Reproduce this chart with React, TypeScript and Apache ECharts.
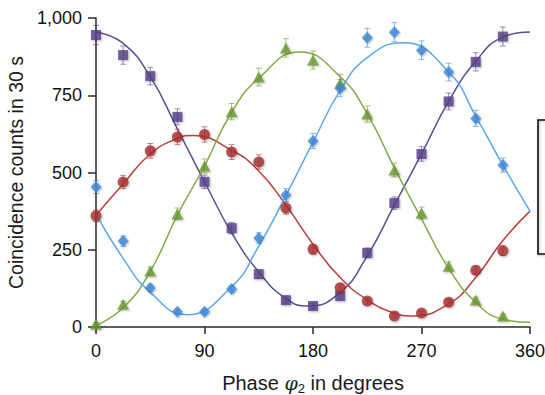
import React, { useEffect, useRef } from 'react';
import * as echarts from 'echarts';

// Measured phases (degrees)
const phases = [0, 22.5, 45, 67.5, 90, 112.5, 135, 157.5, 180, 202.5, 225, 247.5, 270, 292.5, 315, 337.5];

// Measured coincidence counts in 30 s
const purpleCounts = [945, 880, 812, 680, 470, 320, 171, 87, 68, 100, 240, 401, 560, 730, 858, 940];
const redCounts = [360, 469, 570, 615, 623, 566, 534, 385, 252, 127, 84, 36, 45, 80, 184, 247];
const greenCounts = [10, 74, 181, 366, 521, 697, 809, 903, 864, 789, 689, 508, 369, 197, 87, 36];
const blueCounts = [453, 278, 126, 49, 49, 123, 288, 427, 602, 773, 936, 954, 896, 825, 675, 524];

// Fitted curves (phase, counts)
const purpleFitX = [0, 22.5, 45, 67.5, 90, 112.5, 135, 157.5, 176, 202.5, 225, 247.5, 270, 292.5, 315, 337.5, 360];
const purpleFitY = [955, 918, 810, 641, 470, 305, 178, 92, 68, 112, 230, 395, 560, 730, 860, 938, 955];
const redFitX = [0, 22.5, 45, 67.5, 80, 112.5, 135, 157.5, 180, 202.5, 225, 247.5, 262, 292.5, 315, 337.5, 360];
const redFitY = [362, 463, 560, 610, 620, 572, 505, 395, 268, 160, 88, 45, 36, 75, 160, 280, 375];
const greenFitX = [0, 22.5, 45, 67.5, 90, 112.5, 135, 169, 202.5, 225, 247.5, 270, 292.5, 315, 337.5, 360];
const greenFitY = [5, 62, 180, 362, 521, 695, 805, 890, 810, 690, 515, 350, 190, 80, 25, 15];
const blueFitX = [0, 22.5, 45, 75, 112.5, 135, 157.5, 180, 202.5, 225, 255, 292.5, 315, 337.5, 360];
const blueFitY = [365, 222, 112, 40, 130, 262, 425, 598, 765, 872, 920, 825, 682, 524, 375];

const xTicks = [0, 90, 180, 270, 360];

const FONT = '"Liberation Sans", Arial, Helvetica, sans-serif';

type SeriesDef = {
  name: string;
  counts: number[];
  fitX: number[];
  fitY: number[];
  marker: string;
  line: string;
  symbol: string;
  size: number | number[];
};

const defs: SeriesDef[] = [
  { name: 'purple', counts: purpleCounts, fitX: purpleFitX, fitY: purpleFitY, marker: '#573f8a', line: '#5c4d90', symbol: 'rect', size: [10, 10] },
  { name: 'red', counts: redCounts, fitX: redFitX, fitY: redFitY, marker: '#a83131', line: '#b5403d', symbol: 'circle', size: 11 },
  { name: 'green', counts: greenCounts, fitX: greenFitX, fitY: greenFitY, marker: '#6c9a2f', line: '#86a94a', symbol: 'triangle', size: [12, 11] },
  { name: 'blue', counts: blueCounts, fitX: blueFitX, fitY: blueFitY, marker: '#3e87d8', line: '#5aa8e6', symbol: 'diamond', size: [11, 12] },
];

function App() {
  const ref = useRef<HTMLDivElement>(null);
  useEffect(() => {
    if (!ref.current) return;
    const chart = echarts.init(ref.current, null, { renderer: 'svg' });

    const series: any[] = [];
    defs.forEach((d) => {
      series.push({
        name: d.name + '-fit',
        type: 'line',
        data: d.fitX.map((p, i) => [p, d.fitY[i]]),
        smooth: 0.5,
        showSymbol: false,
        symbol: 'none',
        lineStyle: { color: d.line, width: 1.5 },
        z: 2,
        silent: true,
      });
    });
    defs.forEach((d) => {
      series.push({
        name: d.name + '-err',
        type: 'custom',
        data: phases.map((p, i) => [p, d.counts[i], Math.sqrt(d.counts[i])]),
        renderItem: (params: any, api: any) => {
          const x = api.value(0);
          const y = api.value(1);
          const e = api.value(2);
          const t = api.coord([x, y + e]);
          const b = api.coord([x, y - e]);
          const style = { stroke: d.marker, opacity: 0.6, lineWidth: 1 };
          return {
            type: 'group',
            children: [
              { type: 'line', shape: { x1: t[0], y1: t[1], x2: b[0], y2: b[1] }, style },
              { type: 'line', shape: { x1: t[0] - 3, y1: t[1], x2: t[0] + 3, y2: t[1] }, style },
              { type: 'line', shape: { x1: b[0] - 3, y1: b[1], x2: b[0] + 3, y2: b[1] }, style },
            ],
          };
        },
        z: 3,
        silent: true,
      });
    });
    defs.forEach((d) => {
      series.push({
        name: d.name,
        type: 'scatter',
        data: phases.map((p, i) => [p, d.counts[i]]),
        symbol: d.symbol,
        symbolSize: d.size,
        itemStyle: {
          color: d.marker,
          shadowBlur: 2,
          shadowColor: 'rgba(0,0,0,0.35)',
          shadowOffsetX: 1,
          shadowOffsetY: 1,
        },
        z: 4,
        silent: true,
      });
    });

    chart.setOption({
      animation: false,
      backgroundColor: '#ffffff',
      grid: { left: 96, right: 15, top: 18, bottom: 68, containLabel: false, outerBoundsMode: 'none' },
      xAxis: {
        type: 'value',
        min: 0,
        max: 360,
        interval: 90,
        name: '{a|Phase }{phi|φ}{sub|2}{a| in degrees}',
        nameLocation: 'middle',
        nameGap: 44,
        nameTextStyle: {
          color: '#1a1a1a',
          fontFamily: FONT,
          fontSize: 20,
          rich: {
            a: { fontFamily: FONT, fontSize: 20, color: '#1a1a1a', lineHeight: 24 },
            phi: { fontFamily: '"DejaVu Serif", "Liberation Serif", serif', fontStyle: 'italic', fontSize: 19, color: '#1a1a1a', lineHeight: 24 },
            sub: { fontFamily: FONT, fontSize: 13, color: '#1a1a1a', lineHeight: 12, verticalAlign: 'bottom' },
          },
        },
        axisLine: { show: true, lineStyle: { color: '#2a2a2a', width: 1.5 } },
        axisTick: { show: true, inside: false, length: 7, lineStyle: { color: '#2a2a2a', width: 1.5 } },
        axisLabel: {
          margin: 15,
          color: '#111',
          fontFamily: FONT,
          fontSize: 18,
          formatter: (v: number) => (xTicks.indexOf(v) >= 0 ? String(v) : ''),
        },
        splitLine: { show: false },
      },
      yAxis: {
        type: 'value',
        min: 0,
        max: 1000,
        interval: 250,
        name: 'Coincidence counts in 30 s',
        nameLocation: 'middle',
        nameGap: 59,
        nameTextStyle: { color: '#1a1a1a', fontFamily: FONT, fontSize: 19.5 },
        axisLine: { show: true, lineStyle: { color: '#2a2a2a', width: 1.5 } },
        axisTick: { show: true, inside: false, length: 8, lineStyle: { color: '#2a2a2a', width: 1.5 } },
        axisLabel: {
          margin: 14,
          color: '#111',
          fontFamily: FONT,
          fontSize: 18,
          formatter: (v: number) => v.toLocaleString('en-US'),
        },
        splitLine: { show: false },
      },
      graphic: [
        {
          type: 'rect',
          shape: { x: 538, y: 120, width: 30, height: 134 },
          style: { fill: 'none', stroke: '#111', lineWidth: 1.6, shadowBlur: 2, shadowColor: 'rgba(0,0,0,0.25)', shadowOffsetX: 1, shadowOffsetY: 1 },
          silent: true,
        },
      ],
      series,
    });
    return () => chart.dispose();
  }, []);
  return <div ref={ref} style={{ position: 'fixed', left: 0, top: 0, width: 545, height: 395 }} />;
}

export default App;
